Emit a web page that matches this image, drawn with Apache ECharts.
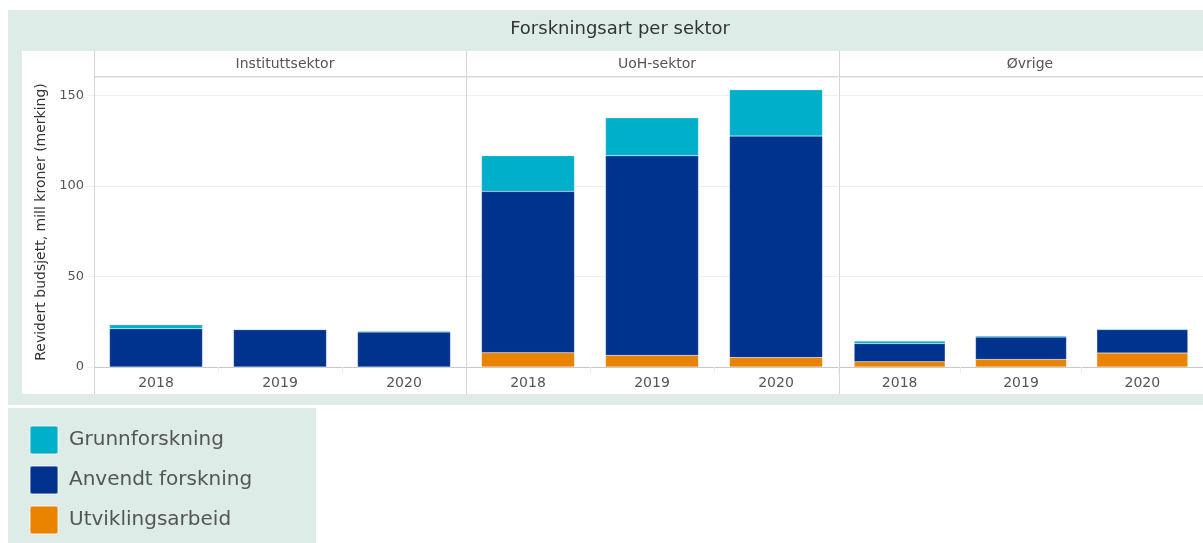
<!DOCTYPE html>
<html>
<head>
<meta charset="utf-8">
<script src="https://cdn.jsdelivr.net/npm/echarts@6/dist/echarts.min.js"></script>
<style>
  html, body { margin: 0; padding: 0; background: #fff; }
  #main { width: 1203px; height: 543px; }
</style>
</head>
<body>
<div id="main"></div>
<script>
// data (mill kroner)
var sectors = ['Instituttsektor', 'UoH-sektor', 'Øvrige'];
var years = ['2018', '2019', '2020'];
var seriesNames = ['Grunnforskning', 'Anvendt forskning', 'Utviklingsarbeid'];
var colors = ['#00b0ca', '#00338d', '#ea8300'];
// one row per sector, one value per year
var utvikling = [[0, 0, 0], [7.9, 6.4, 5.2], [2.9, 4.2, 7.7]];
var anvendt = [[21.1, 20.6, 19.3], [89, 110.2, 122.2], [10.1, 12.3, 12.9]];
var grunn = [[2.2, 0.4, 0.6], [19.7, 20.9, 25.6], [1.3, 0.8, 0.5]];
var yTicks = [0, 50, 100, 150];

var font = 'DejaVu Sans';
var teal = '#deece8';
var panelLeft = [94, 466, 839];
var panelWidth = 372;

var grids = [], xAxes = [], yAxes = [], series = [], titles = [];

titles.push({
    text: 'Forskningsart per sektor',
    left: 615, top: 15, textAlign: 'center',
    textStyle: {fontFamily: font, fontSize: 18, fontWeight: 'normal', color: '#333'}
});

for (var i = 0; i < 3; i++) {
    grids.push({left: panelLeft[i], top: 77, width: panelWidth, bottom: 176, containLabel: false});
    titles.push({
        text: sectors[i],
        left: panelLeft[i] + panelWidth / 2, top: 52, textAlign: 'center',
        textStyle: {fontFamily: font, fontSize: 14, fontWeight: 'normal', color: '#555'}
    });
    xAxes.push({
        type: 'category', gridIndex: i, data: years,
        axisLine: {show: true, lineStyle: {color: '#c8c8c8', width: 1}},
        axisTick: {show: true, length: 6, lineStyle: {color: '#ececec'}},
        axisLabel: {fontFamily: font, fontSize: 14, color: '#555', margin: 9}
    });
    yAxes.push({
        type: 'value', gridIndex: i, min: 0, max: 160, interval: 50,
        name: i == 0 ? 'Revidert budsjett, mill kroner (merking)' : '',
        nameLocation: 'middle', nameGap: 46, nameRotate: 90,
        nameTextStyle: {fontFamily: font, fontSize: 14, color: '#333'},
        axisLine: {show: false},
        axisTick: {show: i == 0, length: 7, lineStyle: {color: '#f0f0f0'}},
        axisLabel: {
            show: i == 0, fontFamily: font, fontSize: 13, color: '#555', margin: 10,
            showMaxLabel: false,
            formatter: function (v) { return yTicks.indexOf(v) >= 0 ? String(v) : ''; }
        },
        splitLine: {show: true, lineStyle: {color: '#efefef', width: 1}}
    });
    var parts = [grunn, anvendt, utvikling];
    // stack from the bottom: utvikling, anvendt, grunn
    for (var k = 2; k >= 0; k--) {
        series.push({
            type: 'bar', name: seriesNames[k], xAxisIndex: i, yAxisIndex: i,
            stack: 'sektor' + i, barCategoryGap: '25%',
            itemStyle: {color: colors[k], borderColor: 'rgba(255,255,255,0.4)', borderWidth: 0.5},
            data: parts[k][i],
            silent: true
        });
    }
}

var graphics = [
    {type: 'rect', shape: {x: 8, y: 10, width: 1195, height: 395}, style: {fill: teal}, z: -10},
    {type: 'rect', shape: {x: 22, y: 51, width: 1181, height: 343}, style: {fill: '#fff'}, z: -9},
    {type: 'rect', shape: {x: 8, y: 408, width: 308, height: 135}, style: {fill: teal}, z: -10},
    {type: 'line', shape: {x1: 94, y1: 76.5, x2: 1203, y2: 76.5}, style: {stroke: '#d6d6d6', lineWidth: 1}, z: 5}
];
for (var j = 0; j < 3; j++) {
    graphics.push({
        type: 'line',
        shape: {x1: panelLeft[j] + 0.5, y1: 51, x2: panelLeft[j] + 0.5, y2: 394},
        style: {stroke: '#d6d6d6', lineWidth: 1}, z: 5
    });
}

var myChart = echarts.init(document.getElementById('main'));
myChart.setOption({
    animation: false,
    title: titles,
    graphic: graphics,
    legend: {
        data: seriesNames,
        orient: 'vertical', left: 24, top: 420, height: 123, padding: 5,
        icon: 'path://M2,0 H26 Q28,0 28,2 V26 Q28,28 26,28 H2 Q0,28 0,26 V2 Q0,0 2,0 Z',
        itemWidth: 28, itemHeight: 28, itemGap: 10,
        selectedMode: false,
        textStyle: {fontFamily: font, fontSize: 20, color: '#555', padding: [0, 0, 0, 6]}
    },
    grid: grids,
    xAxis: xAxes,
    yAxis: yAxes,
    series: series
});
</script>
</body>
</html>
